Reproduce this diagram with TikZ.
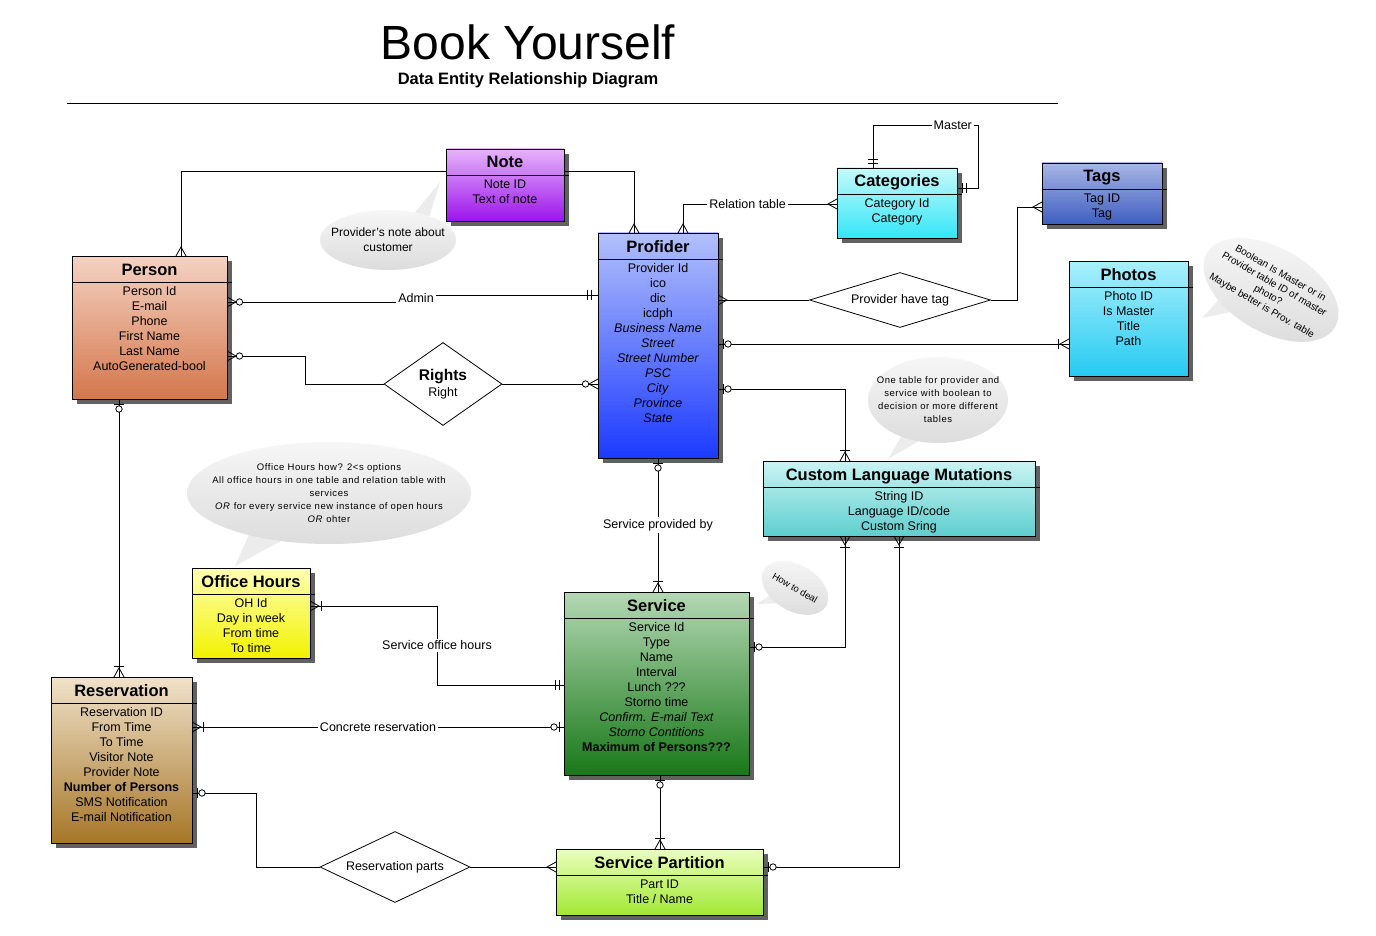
\documentclass[tikz,border=0pt]{standalone}
\usepackage{fontspec}
\setmainfont{Liberation Sans}
\newfontfamily\bubblefont[LetterSpace=6]{Liberation Sans}
\usetikzlibrary{shapes.geometric,shadows,decorations.markings}

\definecolor{notetop}{HTML}{E6B4FA}
\definecolor{notebot}{HTML}{9C14EC}
\definecolor{persontop}{HTML}{F4D2C2}
\definecolor{personbot}{HTML}{D4774C}
\definecolor{profidertop}{HTML}{B2C0FA}
\definecolor{profiderbot}{HTML}{1C3AFF}
\definecolor{categoriestop}{HTML}{C6FAFA}
\definecolor{categoriesbot}{HTML}{34E6F8}
\definecolor{tagstop}{HTML}{A8B6E6}
\definecolor{tagsbot}{HTML}{3E5EC0}
\definecolor{photostop}{HTML}{AAF0FC}
\definecolor{photosbot}{HTML}{26CAF2}
\definecolor{clmtop}{HTML}{CAF4F4}
\definecolor{clmbot}{HTML}{5ECECE}
\definecolor{officetop}{HTML}{FFFFB4}
\definecolor{officebot}{HTML}{F2F200}
\definecolor{servicetop}{HTML}{B4D8B4}
\definecolor{servicebot}{HTML}{187818}
\definecolor{reservationtop}{HTML}{F0E2CA}
\definecolor{reservationbot}{HTML}{A67628}
\definecolor{partitiontop}{HTML}{EAFFBC}
\definecolor{partitionbot}{HTML}{A2E834}

\tikzset{
  entity/.style={draw, line width=0.8pt, inner sep=0pt, outer sep=0pt,
    drop shadow={opacity=1, fill=black!62, shadow xshift=5pt, shadow yshift=-5pt}},
  enttitle/.style={font=\bfseries\fontsize{16.5}{18}\selectfont, anchor=base, inner sep=0pt},
  entattr/.style={font=\fontsize{12.5}{15}\selectfont, align=center, anchor=north, inner sep=0pt},
  relation/.style={draw, diamond, line width=0.8pt, inner sep=0pt, fill=white, align=center,
    font=\fontsize{12.5}{15}\selectfont},
  erline/.style={line width=0.8pt},
  sym/.style={line width=0.8pt},
  lbl/.style={fill=white, inner sep=2pt, font=\fontsize{12.5}{14}\selectfont},
  bubble/.style={ellipse, top color=gray!7, bottom color=gray!27, inner sep=0pt},
  bubbletext/.style={align=center, inner sep=0pt},
  tail/.style={fill=gray!15},
  startsym/.style={postaction={decorate, decoration={markings,
    mark=at position 0 with {\begin{scope}[xscale=-1]#1\end{scope}}}}},
  endsym/.style={postaction={decorate, decoration={markings,
    mark=at position 1 with {#1}}}},
}

% cardinality symbols, entity at x=0
\newcommand{\symmany}{\draw[sym] (0pt,5pt) -- (-9pt,0pt) -- (0pt,-5pt);}
\newcommand{\symone}[1]{\draw[sym] (-#1pt,5pt) -- (-#1pt,-5pt);}
\newcommand{\symzero}[1]{\draw[sym, fill=white] (-#1pt,0pt) circle (3.2pt);}

% name, top left, width, height, colour prefix, title, attributes
\newcommand{\entity}[7]{%
  \node[entity, top color=#5top, bottom color=#5bot, minimum width=#3pt,
    minimum height=#4pt, anchor=north west] (#1) at (#2) {};
  \draw[line width=0.8pt] ([yshift=-26pt]#1.north west) -- ([yshift=-26pt,xshift=5pt]#1.north east);
  \node[enttitle] (#1-title) at ([yshift=-19pt]#1.north) {#6};
  \node[entattr] (#1-attr) at ([yshift=-30.5pt]#1.north) {#7};
}

\begin{document}
\begin{tikzpicture}[x=1pt,y=-1pt]
  \fill[white] (0,0) rectangle (1376,936);
  \useasboundingbox (0,0) rectangle (1376,936);

  % title
  \node[font=\fontsize{48}{56}\selectfont] (title) at (528,42) {Book Yourself};
  \node[font=\bfseries\fontsize{16.5}{20}\selectfont] (subtitle) at (528,80) {Data Entity Relationship Diagram};
  \draw[line width=0.8pt] (67,103) -- (1058,103);

  % comment bubbles
  \fill[tail] (404,226) -- (440,182) -- (424,234) -- cycle;
  \node[bubble, minimum width=136pt, minimum height=60pt] (notecall) at (388,240) {};
  \node[bubbletext, font=\fontsize{12}{15}\selectfont] (notecall-text) at (notecall) {Provider's note about\\customer};
  \fill[tail] (904,432) -- (888,459) -- (924,438) -- cycle;
  \node[bubble, minimum width=140pt, minimum height=86pt] (clmcall) at (938,400) {};
  \node[bubbletext, font=\bubblefont\fontsize{9.5}{13}\selectfont] (clmcall-text) at (clmcall)
    {One table for provider and\\service with boolean to\\decision or more different\\tables};
  \fill[tail] (252,528) -- (235,566) -- (290,536) -- cycle;
  \node[bubble, minimum width=284pt, minimum height=102pt] (officecall) at (329,493) {};
  \node[bubbletext, font=\bubblefont\fontsize{9.5}{13}\selectfont] (officecall-text) at (officecall)
    {Office Hours how? 2<s options\\All office hours in one table and relation table with\\services\\\textit{OR} for every service new instance of open hours\\\textit{OR} ohter};
  \fill[tail] (778,590) -- (757,604) -- (784,603) -- cycle;
  \node[bubble, rotate=-30, minimum width=72pt, minimum height=46pt] (dealcall) at (795,588) {};
  \node[bubbletext, rotate=-30, font=\fontsize{9.5}{11}\selectfont] (dealcall-text) at (dealcall) {How to deal};
  \fill[tail] (1222,296) -- (1202,318) -- (1240,310) -- cycle;
  \node[bubble, rotate=-30, minimum width=148pt, minimum height=84pt] (photocall) at (1271,290) {};
  \node[bubbletext, rotate=-30, font=\fontsize{10}{12.5}\selectfont] (photocall-text) at (photocall)
    {Boolean Is Master or in\\Provider table ID of master\\photo?\\Maybe better is Prov. table};

  % entities
  \entity{note}{446,149}{118}{72}{note}{Note}{Note ID\\Text of note}
  \entity{person}{72,256}{155}{143}{person}{Person}{Person Id\\E-mail\\Phone\\First Name\\Last Name\\AutoGenerated-bool}
  \entity{profider}{598,233}{120}{225}{profider}{Profider}{Provider Id\\ico\\dic\\icdph\\\textit{Business Name}\\\textit{Street}\\\textit{Street Number}\\\textit{PSC}\\\textit{City}\\\textit{Province}\\\textit{State}}
  \entity{categories}{837,168}{120}{70}{categories}{Categories}{Category Id\\Category}
  \entity{tags}{1042,163}{120}{61}{tags}{Tags}{Tag ID\\Tag}
  \entity{photos}{1069,261}{119}{115}{photos}{Photos}{Photo ID\\Is Master\\Title\\Path}
  \entity{clm}{763,461}{272}{75}{clm}{Custom Language Mutations}{String ID\\Language ID/code\\Custom Sring}
  \entity{office}{192,568}{118}{90}{office}{Office Hours}{OH Id\\Day in week\\From time\\To time}
  \entity{service}{564,592}{185}{183}{service}{Service}{Service Id\\Type\\Name\\Interval\\Lunch ???\\Storno time\\\textit{Confirm. E-mail Text}\\\textit{Storno Contitions}\\\textbf{Maximum of Persons???}}
  \entity{reservation}{51,677}{141}{166}{reservation}{Reservation}{Reservation ID\\From Time\\To Time\\Visitor Note\\Provider Note\\\textbf{Number of Persons}\\SMS Notification\\E-mail Notification}
  \entity{partition}{556,849}{207}{66}{partition}{Service Partition}{Part ID\\Title / Name}

  % relations
  \node[relation, aspect=1.4, minimum width=118pt, minimum height=83pt] (rights) at (443,384)
    {{\bfseries\fontsize{15.5}{17}\selectfont Rights}\\[1pt]Right};
  \node[relation, aspect=3.3, minimum width=181pt, minimum height=55pt] (havetag) at (900,300) {Provider have tag};
  \node[relation, aspect=2.1, minimum width=150pt, minimum height=71pt] (resparts) at (395,867) {Reservation parts};

  % connectors
  \draw[erline, startsym={\symmany}] ([xshift=31.5pt]person.north) |- ([yshift=14pt]note.west);
  \draw[erline, endsym={\symmany}] ([yshift=14pt]note.east) -| ([xshift=-24pt]profider.north);
  \draw[erline, startsym={\symmany}, endsym={\symmany}] ([xshift=25pt]profider.north)
    |- node[lbl, pos=0.71] {Relation table} ([yshift=-1pt]categories.west);
  \draw[erline, startsym={\symone{5}\symone{9}}, endsym={\symone{5}\symone{9}}] ([xshift=-24pt]categories.north)
    -- ++(0,-43) -| node[lbl, pos=0.38] {Master} ([xshift=21pt,yshift=15pt]categories.east) -- ([yshift=15pt]categories.east);
  \draw[erline, startsym={\symmany\symzero{12.5}}, endsym={\symone{7}\symone{11}}] ([yshift=25.5pt]person.east)
    -- ++(189,0) |- node[lbl, pos=0.25] {Admin} ([yshift=50.5pt]profider.west);
  \draw[erline, startsym={\symmany\symzero{12.5}}] ([yshift=-28.5pt]person.east) -- ++(78,0) |- (rights.west);
  \draw[erline, endsym={\symmany\symzero{12.5}}] (rights.east) -- (rights.east -| profider.west);
  \draw[erline, startsym={\symmany}] (havetag.west -| profider.east) -- (havetag.west);
  \draw[erline, endsym={\symmany}] (havetag.east) -- ++(26,0) |- ([yshift=-13.5pt]tags.west);
  \draw[erline, startsym={\symone{5}\symzero{10}}, endsym={\symmany\symone{11}}] ([yshift=1.5pt]profider.east)
    coordinate (pp) -- (photos.west |- pp);
  \draw[erline, startsym={\symone{5}\symzero{10}}, endsym={\symmany\symone{11}}] ([yshift=-43.5pt]profider.east)
    -| ([xshift=-54pt]clm.north);
  \draw[erline, startsym={\symone{5}\symzero{10}}, endsym={\symmany\symone{11}}] (profider.south)
    -- node[lbl] {Service provided by} (profider.south |- service.north);
  \draw[erline, startsym={\symmany\symone{11}}, endsym={\symone{5}\symone{9}}] ([yshift=7pt]office.east)
    -- ++(127,0) |- node[lbl, pos=0.25] {Service office hours} ([yshift=-1.5pt]service.west);
  \draw[erline, startsym={\symmany\symone{11}}, endsym={\symone{5}\symzero{10}}] ([yshift=33pt]reservation.east)
    coordinate (rs) -- node[lbl] {Concrete reservation} (service.west |- rs);
  \draw[erline, startsym={\symone{5}\symzero{10}}, endsym={\symmany\symone{11}}] ([yshift=36.5pt]service.east)
    -| ([xshift=-54pt]clm.south);
  \draw[erline, startsym={\symmany\symone{11}}, endsym={\symone{5}\symzero{10}}] (clm.south)
    |- ([yshift=15pt]partition.east);
  \draw[erline, startsym={\symone{5}\symzero{10}}, endsym={\symmany\symone{11}}] ([xshift=3.5pt]service.south)
    coordinate (ss) -- (ss |- partition.north);
  \draw[erline, startsym={\symone{5}\symzero{10}}] ([yshift=-33pt]reservation.east) -- ++(64,0) |- (resparts.west);
  \draw[erline, endsym={\symmany}] (resparts.east) -- (resparts.east -| partition.west);
  \draw[erline, startsym={\symone{5}\symzero{10}}, endsym={\symmany\symone{11}}] ([xshift=-30.5pt]person.south)
    coordinate (ps) -- (ps |- reservation.north);
\end{tikzpicture}
\end{document}
